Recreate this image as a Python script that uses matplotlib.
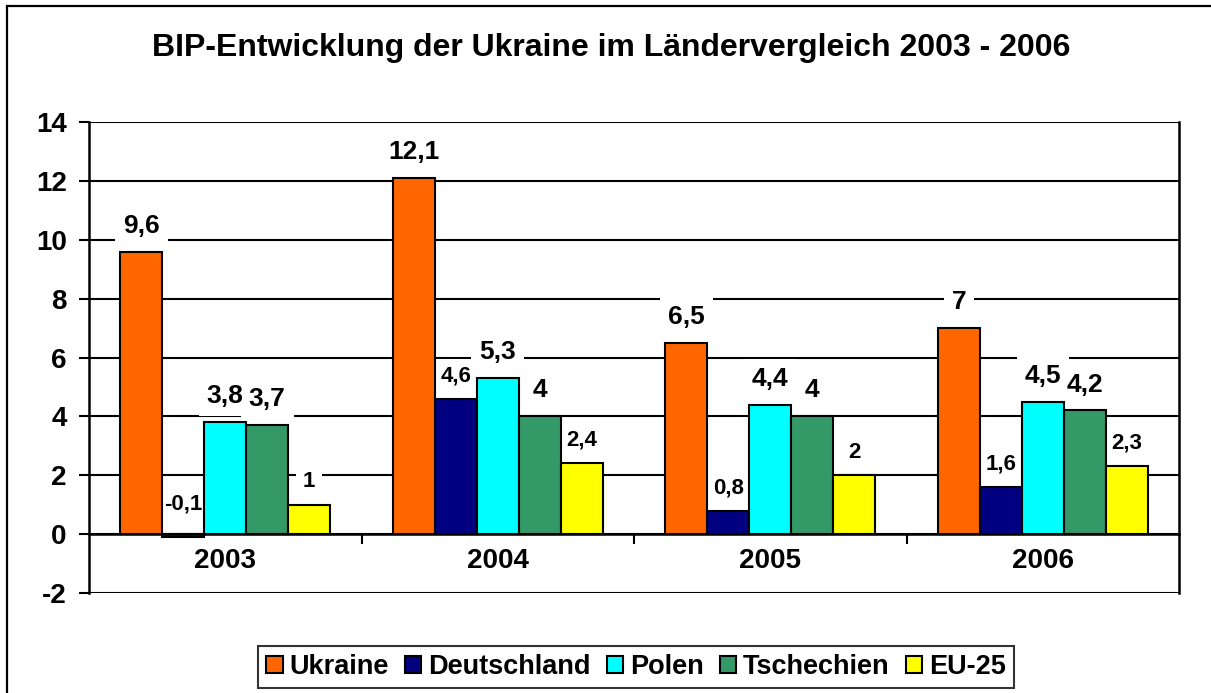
import matplotlib
matplotlib.use("Agg")
import matplotlib.pyplot as plt
from matplotlib.patches import Patch, Rectangle
import numpy as np

years = ["2003", "2004", "2005", "2006"]
series = ["Ukraine", "Deutschland", "Polen", "Tschechien", "EU-25"]
ukraine = [9.6, 12.1, 6.5, 7.0]
deutschland = [-0.1, 4.6, 0.8, 1.6]
polen = [3.8, 5.3, 4.4, 4.5]
tschechien = [3.7, 4.0, 4.0, 4.2]
eu25 = [1.0, 2.4, 2.0, 2.3]
values = [ukraine, deutschland, polen, tschechien, eu25]
labels_txt = [
    ["9,6", "12,1", "6,5", "7"],
    ["-0,1", "4,6", "0,8", "1,6"],
    ["3,8", "5,3", "4,4", "4,5"],
    ["3,7", "4", "4", "4,2"],
    ["1", "2,4", "2", "2,3"],
]
colors = ["#FF6600", "#000080", "#00FFFF", "#339966", "#FFFF00"]
yticks = [-2, 0, 2, 4, 6, 8, 10, 12, 14]
title = "BIP-Entwicklung der Ukraine im Ländervergleich 2003 - 2006"

plt.rcParams["font.family"] = ["Liberation Sans", "DejaVu Sans"]
plt.rcParams["font.weight"] = "bold"

W, H = 1211, 693
fig = plt.figure(figsize=(W / 100, H / 100), dpi=100)
ax = fig.add_axes([89 / W, 100 / H, (1179 - 89) / W, (593 - 122) / H])

# outer frame (partially cropped in reference)
fig.patches.append(Rectangle((7 / W, -0.1), 1.2, (H - 6) / H + 0.1, transform=fig.transFigure,
                             fill=False, edgecolor="black", linewidth=1.6, zorder=0))

x = np.arange(len(years))
bw = 0.154
small = {1, 4}
for i, (vals, col) in enumerate(zip(values, colors)):
    xs = x + (i - 2) * bw
    ax.bar(xs, vals, width=bw, color=col, edgecolor="black", linewidth=1.5, zorder=3)
    for xi, v, t in zip(xs, vals, labels_txt[i]):
        fs = 16 if i in small else 19
        off = 9 if i in small else 10
        if v < 0:
            off += 5
        # white background box (drawn below all label texts)
        ax.annotate(t, (xi, max(v, 0)), xytext=(0, off), textcoords="offset points",
                    ha="center", va="bottom", fontsize=fs, fontweight="bold", zorder=1.8,
                    color="none",
                    bbox=dict(boxstyle="square,pad=0.3", facecolor="white", edgecolor="none"))
        ax.annotate(t, (xi, max(v, 0)), xytext=(0, off), textcoords="offset points",
                    ha="center", va="bottom", fontsize=fs, fontweight="bold", zorder=2.2)

ax.set_xlim(-0.5, 3.5)
ax.set_ylim(-2, 14)
ax.yaxis.grid(True, color="black", linewidth=1.5)
ax.set_axisbelow(True)
ax.tick_params(axis="y", direction="out", length=7, width=1.5, pad=9, labelsize=20)
ax.tick_params(axis="x", which="major", direction="out", length=7.5, width=1.5)
ax.tick_params(axis="x", which="minor", length=0, pad=10, labelsize=20)
ax.set_yticks(yticks)
ax.set_yticklabels([str(v) for v in yticks], fontsize=20, fontweight="bold")
ax.set_xticks([0.5, 1.5, 2.5])
ax.set_xticklabels([])
ax.set_xticks(x, minor=True)
ax.set_xticklabels(years, minor=True, fontsize=20, fontweight="bold")

ax.spines["bottom"].set_position(("data", 0))
ax.spines["top"].set_visible(False)
for s in ["left", "right", "bottom"]:
    ax.spines[s].set_linewidth(1.8)
    ax.spines[s].set_color("black")

fig.text(611 / W, 1 - 48 / H, title, ha="center", va="center", fontsize=23, fontweight="bold")

handles = [Patch(facecolor=c, edgecolor="black", linewidth=1.5) for c in colors]
leg = fig.legend(handles, series, loc="lower center", bbox_to_anchor=(636 / W, 5 / H), ncol=5,
                 frameon=True, fancybox=False, edgecolor="black", fontsize=19.5,
                 handlelength=0.6, handleheight=0.6, handletextpad=0.25, columnspacing=0.6,
                 borderpad=0.3, borderaxespad=0)
leg.get_frame().set_linewidth(1.5)
for t in leg.get_texts():
    t.set_fontweight("bold")

fig.savefig("out.png", dpi=100)
